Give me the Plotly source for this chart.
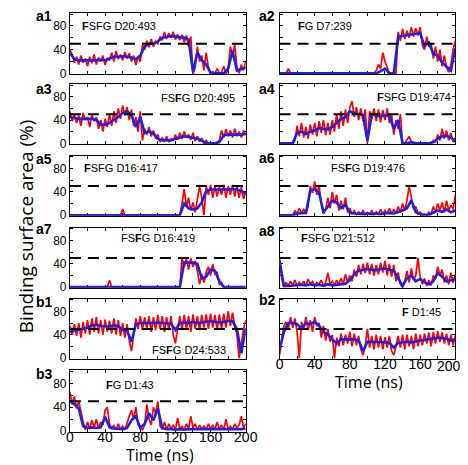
import numpy as np
import plotly.graph_objects as go

# ---------------- data ----------------
T_RED = np.arange(0, 200.01, 2.5)   # raw sampling (ns)
T_BLUE = np.arange(0, 200.01, 5.0)  # smoothed sampling (ns)
THRESHOLD = 50

X_TICKS = [0, 20, 40, 60, 80, 100, 120, 140, 160, 180, 200]
X_LABELS = ["0", "", "40", "", "80", "", "120", "", "160", "", "200"]
Y_TICKS = [0, 20, 40, 60, 80, 100]
Y_LABELS = ["0", "", "40", "", "80", ""]

PANELS = ["a1", "a2", "a3", "a4", "a5", "a6", "a7", "a8", "b1", "b2", "b3"]
NAMES = ["<b>F</b>SFG D20:493", "<b>F</b>G D7:239", "FS<b>F</b>G D20:495",
         "<b>F</b>SFG D19:474", "<b>F</b>SFG D16:417", "FS<b>F</b>G D19:476",
         "FS<b>F</b>G D16:419", "<b>F</b>SFG D21:512", "FS<b>F</b>G D24:533",
         "<b>F</b> D1:45", "<b>F</b>G D1:43"]

a1_raw = [40, 32, 18, 28, 15, 30, 18, 25, 12, 28,
          17, 32, 15, 27, 20, 30, 14, 26, 22, 35,
          20, 38, 24, 32, 22, 36, 25, 34, 20, 30,
          14, 28, 20, 48, 40, 55, 44, 58, 45, 54,
          50, 62, 56, 70, 58, 68, 60, 70, 57, 66,
          56, 65, 52, 64, 45, 62, 0, 10, 45, 20,
          30, 5, 35, 10, 0, 3, 0, 8, 0, 2,
          12, 0, 5, 45, 30, 48, 10, 0, 15, 5,
          20]
a1_avg = [35, 24, 22, 22, 21, 22, 22, 23, 22, 25,
          28, 28, 29, 28, 27, 24, 30, 45, 50, 50,
          54, 60, 62, 63, 62, 61, 60, 57, 3, 35,
          22, 15, 1, 0, 0, 0, 8, 38, 5, 8,
          10]

a2_raw = [0, 0, 0, 0, 8, 0, 0, 0, 0, 0,
          0, 0, 0, 0, 0, 0, 0, 0, 0, 0,
          0, 0, 0, 0, 0, 0, 0, 0, 0, 0,
          0, 0, 0, 0, 0, 0, 0, 0, 0, 0,
          0, 0, 0, 0, 5, 15, 8, 35, 20, 10,
          0, 0, 0, 0, 70, 55, 75, 58, 72, 60,
          78, 62, 76, 64, 78, 48, 40, 62, 45, 50,
          25, 45, 20, 40, 12, 30, 10, 2, 15, 40,
          55]
a2_avg = [0, 0, 0, 0, 0, 0, 0, 0, 0, 0,
          0, 0, 0, 0, 0, 0, 0, 0, 0, 0,
          0, 0, 0, 4, 8, 0, 0, 62, 63, 64,
          65, 67, 68, 46, 52, 33, 30, 18, 12, 5,
          42]

a3_raw = [55, 38, 50, 35, 48, 30, 52, 40, 45, 28,
          50, 38, 45, 25, 40, 20, 42, 28, 50, 30,
          55, 35, 60, 42, 65, 48, 62, 40, 58, 30,
          45, 20, 55, 5, 25, 15, 28, 12, 22, 8,
          15, 2, 10, 3, 12, 2, 8, 5, 15, 6,
          18, 8, 20, 10, 15, 6, 18, 4, 12, 3,
          8, 0, 5, 0, 0, 0, 0, 2, 5, 22,
          10, 24, 12, 22, 10, 25, 12, 20, 10, 22,
          15]
a3_avg = [45, 43, 42, 42, 42, 42, 40, 32, 32, 35,
          40, 45, 52, 55, 48, 28, 45, 18, 20, 17,
          8, 5, 6, 5, 8, 10, 12, 11, 10, 8,
          5, 0, 0, 0, 2, 14, 15, 15, 14, 15,
          16]

a4_raw = [0, 0, 0, 0, 0, 0, 0, 5, 30, 12,
          35, 10, 28, 8, 32, 15, 35, 12, 38, 18,
          40, 14, 35, 15, 40, 20, 50, 25, 55, 30,
          58, 35, 62, 72, 45, 62, 40, 60, 38, 58,
          0, 55, 42, 60, 38, 58, 36, 57, 40, 60,
          35, 50, 15, 40, 25, 50, 0, 0, 5, 12,
          2, 0, 0, 0, 0, 0, 0, 0, 0, 0,
          5, 2, 15, 5, 25, 8, 22, 5, 18, 2,
          10]
a4_avg = [0, 0, 0, 0, 18, 20, 16, 20, 22, 26,
          25, 24, 28, 35, 42, 45, 55, 52, 50, 48,
          5, 50, 48, 46, 48, 47, 25, 40, 0, 0,
          2, 0, 0, 0, 0, 2, 8, 12, 13, 10,
          3]

a5_raw = [0, 0, 0, 0, 0, 0, 0, 0, 0, 0,
          0, 0, 0, 0, 0, 0, 0, 0, 0, 0,
          0, 0, 0, 0, 10, 0, 0, 0, 0, 0,
          0, 0, 0, 0, 0, 0, 0, 0, 0, 0,
          0, 0, 0, 0, 0, 0, 0, 0, 0, 0,
          0, 20, 45, 15, 30, 8, 22, 5, 25, 50,
          30, 0, 50, 35, 52, 30, 50, 32, 48, 35,
          52, 30, 50, 35, 52, 32, 50, 30, 48, 28,
          40]
a5_avg = [0, 0, 0, 0, 0, 0, 0, 0, 0, 0,
          0, 0, 0, 0, 0, 0, 0, 0, 0, 0,
          0, 0, 0, 0, 0, 0, 20, 12, 10, 12,
          22, 42, 44, 44, 43, 43, 44, 45, 43, 42,
          36]

a6_raw = [0, 0, 0, 0, 0, 0, 0, 8, 2, 12,
          4, 10, 3, 15, 50, 38, 58, 35, 52, 20,
          2, 10, 30, 12, 40, 20, 35, 8, 25, 10,
          30, 5, 12, 2, 8, 1, 6, 2, 8, 1,
          5, 2, 8, 1, 6, 2, 10, 2, 8, 3,
          12, 2, 10, 3, 15, 5, 20, 8, 25, 50,
          30, 10, 15, 2, 5, 0, 2, 0, 5, 2,
          15, 5, 20, 8, 22, 5, 25, 8, 18, 10,
          35]
a6_avg = [0, 0, 0, 0, 3, 3, 4, 42, 45, 38,
          5, 15, 25, 22, 12, 18, 4, 3, 2, 2,
          3, 2, 3, 2, 3, 4, 3, 5, 8, 12,
          26, 5, 2, 0, 1, 5, 8, 6, 10, 5,
          8]

a7_raw = [0, 0, 0, 0, 0, 0, 0, 0, 0, 0,
          0, 0, 0, 0, 0, 0, 0, 0, 12, 0,
          0, 0, 0, 0, 0, 0, 0, 0, 0, 0,
          0, 0, 0, 0, 0, 0, 0, 0, 0, 0,
          0, 0, 0, 0, 0, 0, 0, 0, 0, 0,
          0, 50, 35, 48, 30, 50, 35, 45, 28, 5,
          22, 8, 25, 35, 20, 40, 22, 25, 5, 8,
          0, 0, 0, 0, 0, 0, 0, 0, 0, 0,
          0]
a7_avg = [0, 0, 0, 0, 0, 0, 0, 0, 0, 0,
          0, 0, 0, 0, 0, 0, 0, 0, 0, 0,
          0, 0, 0, 0, 0, 0, 42, 42, 42, 40,
          15, 18, 30, 28, 10, 0, 0, 0, 0, 0,
          0]

a8_raw = [50, 15, 0, 8, 2, 10, 3, 12, 2, 8,
          4, 10, 2, 14, 5, 10, 2, 8, 5, 12,
          2, 8, 25, 5, 10, 3, 12, 5, 15, 5,
          22, 8, 20, 10, 30, 18, 38, 22, 40, 24,
          42, 22, 40, 20, 38, 22, 42, 25, 45, 20,
          40, 18, 38, 10, 25, 5, 0, 10, 28, 8,
          32, 12, 20, 50, 18, 5, 15, 2, 12, 3,
          20, 15, 35, 20, 30, 8, 20, 5, 25, 8,
          22]
a8_avg = [45, 2, 2, 3, 3, 4, 3, 5, 3, 4,
          2, 5, 3, 4, 5, 6, 12, 22, 28, 30,
          31, 30, 29, 31, 32, 30, 28, 15, 2, 15,
          20, 10, 14, 8, 5, 10, 24, 18, 10, 12,
          14]

b1_raw = [55, 40, 58, 38, 60, 35, 62, 42, 65, 40,
          68, 45, 70, 42, 65, 40, 66, 45, 64, 42,
          68, 40, 65, 38, 60, 35, 58, 30, 12, 40,
          68, 50, 72, 48, 70, 50, 72, 45, 70, 48,
          74, 50, 72, 45, 70, 48, 72, 40, 25, 50,
          72, 48, 74, 50, 72, 45, 75, 50, 72, 48,
          74, 52, 75, 50, 76, 52, 74, 48, 75, 50,
          76, 52, 80, 55, 78, 55, 40, 0, 30, 50,
          65]
b1_avg = [45, 47, 48, 50, 52, 56, 57, 55, 55, 54,
          56, 55, 48, 47, 28, 58, 60, 60, 59, 60,
          61, 60, 60, 59, 48, 60, 61, 60, 62, 60,
          61, 62, 63, 62, 61, 62, 64, 63, 50, 8,
          52]

b2_raw = [5, 30, 55, 62, 50, 70, 52, 68, 45, 0,
          62, 50, 70, 48, 65, 45, 70, 55, 60, 35,
          55, 30, 50, 28, 40, 0, 35, 20, 42, 22,
          40, 25, 45, 20, 42, 22, 38, 15, 5, 20,
          50, 18, 38, 15, 40, 18, 38, 15, 36, 18,
          38, 12, 5, 20, 38, 18, 40, 15, 40, 20,
          38, 15, 42, 20, 40, 22, 42, 25, 44, 20,
          45, 25, 46, 28, 44, 25, 42, 22, 40, 22,
          38]
b2_avg = [15, 45, 60, 60, 58, 50, 60, 58, 62, 55,
          45, 40, 32, 25, 32, 32, 33, 32, 30, 12,
          28, 28, 27, 28, 27, 26, 18, 26, 27, 28,
          27, 29, 30, 31, 32, 33, 35, 34, 33, 30,
          32]

b3_raw = [65, 45, 58, 38, 50, 30, 15, 2, 15, 3,
          18, 5, 20, 4, 15, 10, 35, 40, 12, 3,
          10, 2, 12, 3, 8, 2, 15, 25, 35, 20,
          40, 10, 5, 2, 10, 45, 20, 10, 40, 30,
          50, 8, 3, 15, 2, 12, 3, 10, 2, 22,
          3, 8, 2, 12, 3, 25, 5, 12, 2, 10,
          3, 8, 2, 12, 3, 10, 2, 15, 3, 10,
          2, 20, 3, 8, 2, 12, 5, 10, 25, 5,
          12]
b3_avg = [50, 45, 38, 8, 5, 6, 5, 6, 24, 6,
          4, 3, 3, 5, 18, 25, 5, 12, 30, 18,
          38, 5, 3, 3, 2, 3, 2, 3, 3, 2,
          3, 2, 3, 2, 3, 2, 3, 2, 3, 3,
          4]

RAW = [a1_raw, a2_raw, a3_raw, a4_raw, a5_raw, a6_raw, a7_raw, a8_raw, b1_raw, b2_raw, b3_raw]
AVG = [a1_avg, a2_avg, a3_avg, a4_avg, a5_avg, a6_avg, a7_avg, a8_avg, b1_avg, b2_avg, b3_avg]
for r, a in zip(RAW, AVG):
    assert len(r) == len(T_RED), len(r)
    assert len(a) == len(T_BLUE), len(a)

# ---------------- layout geometry (pixels) ----------------
W, H = 468, 465
COL_X = {"L": (60, 242), "R": (277, 459)}
ROW_Y = [(5, 67), (77, 138), (150, 211), (223, 284), (295, 356), (368, 430)]
POS = [("L", 0), ("R", 0), ("L", 1), ("R", 1), ("L", 2), ("R", 2),
       ("L", 3), ("R", 3), ("L", 4), ("R", 4), ("L", 5)]
LABEL_POS = [(23, 8), (254, 8), (23, 82), (254, 82), (23, 153), (254, 152),
             (23, 224), (254, 226), (23, 298), (254, 296), (23, 372)]
NAME_POS = [(70, 18, "left"), (294, 18, "left"), (233, 91, "right"), (457, 90, "right"),
            (72, 162, "left"), (369, 162, "center"), (151, 234, "center"),
            (297, 234, "left"), (224, 347, "right"), (446, 309, "right"), (95, 383, "left")]
BOTTOM = {"b2", "b3"}
TICK_FONT_X = dict(family="Liberation Sans, Arial", size=14, color="black")

def px(x):
    return x / W

def py(y):
    return 1 - y / H

fig = go.Figure()
annotations = []
for i, name in enumerate(PANELS):
    k = i + 1
    xa = "x" if k == 1 else f"x{k}"
    ya = "y" if k == 1 else f"y{k}"
    fig.add_trace(go.Scatter(x=T_RED, y=RAW[i], mode="lines",
                             line=dict(color="#ff0000", width=1.7),
                             xaxis=xa, yaxis=ya, showlegend=False, hoverinfo="skip"))
    fig.add_trace(go.Scatter(x=T_BLUE, y=AVG[i], mode="lines",
                             line=dict(color="#1f1fe6", width=2.6),
                             xaxis=xa, yaxis=ya, showlegend=False, hoverinfo="skip"))
    fig.add_trace(go.Scatter(x=[0, 200], y=[THRESHOLD, THRESHOLD], mode="lines",
                             line=dict(color="black", width=2, dash="11px,7px"),
                             xaxis=xa, yaxis=ya, showlegend=False, hoverinfo="skip"))
    col, row = POS[i]
    x0, x1 = COL_X[col]
    y0, y1 = ROW_Y[row]
    common = dict(showline=True, mirror="ticks", linecolor="black", linewidth=1,
                  ticks="inside", ticklen=3, tickcolor="black", showgrid=False,
                  zeroline=False, layer="below traces")
    if name in BOTTOM:
        xt = list(X_LABELS)
        if col == "R":
            xt[-1] = ""  # last label placed as annotation so it stays inside the figure
    else:
        xt = [""] * len(X_TICKS)
    fig.layout[f"xaxis{'' if k == 1 else k}"] = dict(
        domain=[px(x0), px(x1)], range=[0, 200], anchor=ya,
        tickvals=X_TICKS, ticktext=xt, tickfont=TICK_FONT_X,
        ticklabelstandoff=-7,
        **common)
    fig.layout[f"yaxis{'' if k == 1 else k}"] = dict(
        domain=[py(y1), py(y0)], range=[-1, 102], anchor=xa,
        tickvals=Y_TICKS,
        ticktext=Y_LABELS if col == "L" else [""] * len(Y_TICKS),
        tickfont=dict(family="Liberation Sans, Arial", size=12, color="black"),
        **common)
    lx, ly = LABEL_POS[i]
    annotations.append(dict(x=px(lx), y=py(ly), xref="paper", yref="paper",
                            text=f"<b>{name}</b>", showarrow=False,
                            xanchor="left", yanchor="middle",
                            font=dict(family="Liberation Sans, Arial", size=14, color="black")))
    nx, ny, anc = NAME_POS[i]
    annotations.append(dict(x=px(nx), y=py(ny), xref="paper", yref="paper",
                            text=NAMES[i], showarrow=False,
                            xanchor=anc, yanchor="middle",
                            font=dict(family="Liberation Sans, Arial", size=11, color="black")))

# right-column final x tick label, kept inside the figure edge
annotations.append(dict(x=px(467), y=py(363), xref="paper", yref="paper",
                        text=X_LABELS[-1], showarrow=False,
                        xanchor="right", yanchor="middle", font=TICK_FONT_X))

annotations.append(dict(x=px(14), y=py(222), xref="paper", yref="paper",
                        text="Binding surface area (%)", showarrow=False, textangle=-90,
                        xanchor="center", yanchor="middle",
                        font=dict(family="Open Sans", size=19, color="black")))
annotations.append(dict(x=px(153), y=py(454), xref="paper", yref="paper",
                        text="Time (ns)", showarrow=False,
                        xanchor="center", yanchor="middle",
                        font=dict(family="Open Sans", size=16, color="black")))
annotations.append(dict(x=px(370), y=py(380), xref="paper", yref="paper",
                        text="Time (ns)", showarrow=False,
                        xanchor="center", yanchor="middle",
                        font=dict(family="Open Sans", size=16, color="black")))

fig.update_layout(width=W, height=H, autosize=False,
                  margin=dict(l=0, r=0, t=0, b=0),
                  paper_bgcolor="white", plot_bgcolor="white",
                  annotations=annotations)

fig.write_html("out.html")
